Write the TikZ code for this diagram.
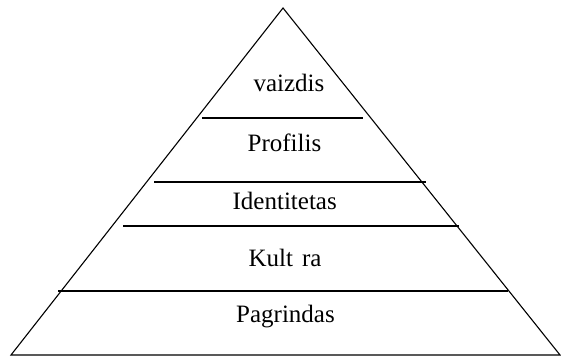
\documentclass[tikz,border=0pt]{standalone}
\usepackage{fontspec}
\setmainfont{Liberation Serif}
\begin{document}
\begin{tikzpicture}[x=1pt,y=-1pt,
  edge/.style={line width=1.1pt,line join=miter},
  tier/.style={line width=1.7pt},
  label/.style={inner sep=0pt,anchor=base,font=\fontsize{25}{30}\selectfont}]
\useasboundingbox (0,0) rectangle (561,358);
% outline of the pyramid
\draw[edge] (11,355) -- (283,8) -- (560,355) -- cycle;
% dividing lines between the tiers
\draw[tier] (202,118) -- (363,118);
\draw[tier] (154,182) -- (426,182);
\draw[tier] (123,226) -- (459,226);
\draw[tier] (58,291) -- (508,291);
% tier names
\node[label] (vaizdis) at (289,91.7) {vaizdis};
\node[label] (profilis) at (284.5,151.7) {Profilis};
\node[label] (identitetas) at (284.7,209) {Identitetas};
\node[label] (kultura) at (285,266.7) {Kult\hspace{9pt}ra};
\node[label] (pagrindas) at (285.5,322.7) {Pagrindas};
\end{tikzpicture}
\end{document}
